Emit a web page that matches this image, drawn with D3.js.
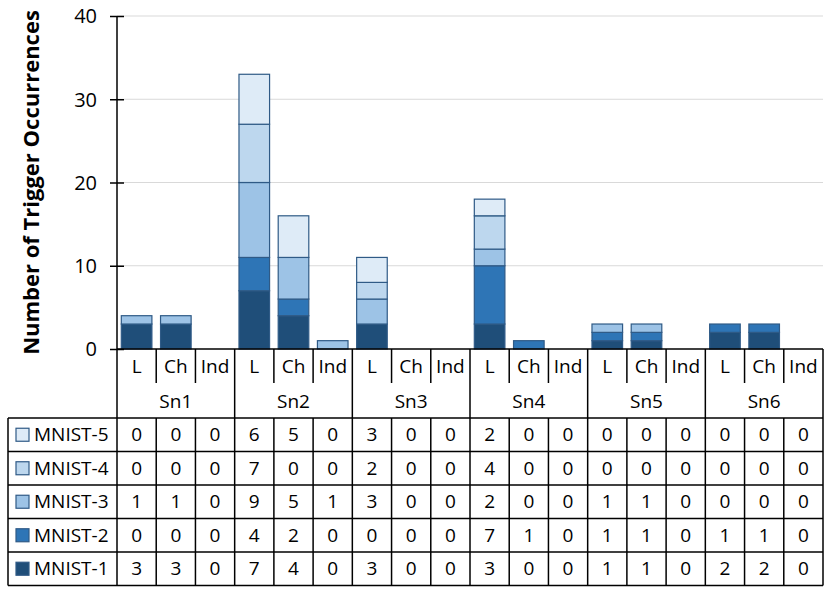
<!DOCTYPE html>
<html>
<head>
<meta charset="utf-8">
<script src="https://cdn.jsdelivr.net/npm/d3@7"></script>
<style>
  body { margin: 0; background: #fff; }
  svg text { font-family: "Open Sans", "Noto Sans", sans-serif; fill: #000; }
</style>
</head>
<body>
<div id="chart"></div>
<script>
const groups = ["Sn1", "Sn2", "Sn3", "Sn4", "Sn5", "Sn6"];
const subCats = ["L", "Ch", "Ind"];
const seriesNames = ["MNIST-1", "MNIST-2", "MNIST-3", "MNIST-4", "MNIST-5"];
// values per column: Sn1 L, Ch, Ind, Sn2 L, Ch, Ind, ...
const mnist1 = [3, 3, 0, 7, 4, 0, 3, 0, 0, 3, 0, 0, 1, 1, 0, 2, 2, 0];
const mnist2 = [0, 0, 0, 4, 2, 0, 0, 0, 0, 7, 1, 0, 1, 1, 0, 1, 1, 0];
const mnist3 = [1, 1, 0, 9, 5, 1, 3, 0, 0, 2, 0, 0, 1, 1, 0, 0, 0, 0];
const mnist4 = [0, 0, 0, 7, 0, 0, 2, 0, 0, 4, 0, 0, 0, 0, 0, 0, 0, 0];
const mnist5 = [0, 0, 0, 6, 5, 0, 3, 0, 0, 2, 0, 0, 0, 0, 0, 0, 0, 0];
const yTicks = [0, 10, 20, 30, 40];

const colors = ["#1f4e79", "#2e75b6", "#9dc3e6", "#bdd7ee", "#deebf7"];
const seriesValues = [mnist1, mnist2, mnist3, mnist4, mnist5];

const width = 831, height = 593;
const margin = { left: 117, right: 8, top: 16 };
const zeroY = 349;
const rowH = 33.5;
const tableTop = 418;
const fs = "19px";

const svg = d3.select("#chart").append("svg")
  .attr("width", width).attr("height", height);

const columns = [];
groups.forEach(g => subCats.forEach(c => columns.push(g + "|" + c)));

const x = d3.scaleBand()
  .domain(columns)
  .range([margin.left, width - margin.right])
  .paddingInner(0.22).paddingOuter(0.11);
const colW = (width - margin.right - margin.left) / columns.length;
const colLeft = i => margin.left + i * colW;

const y = d3.scaleLinear().domain([0, 40]).range([zeroY, margin.top]);

// gridlines
svg.append("g")
  .selectAll("line")
  .data(yTicks.slice(1))
  .join("line")
  .attr("x1", margin.left).attr("x2", width - margin.right)
  .attr("y1", d => y(d)).attr("y2", d => y(d))
  .attr("stroke", "#d9d9d9").attr("stroke-width", 1);

// stacked bars
const table = columns.map((c, i) => {
  const row = { col: c };
  seriesNames.forEach((s, k) => { row[s] = seriesValues[k][i]; });
  return row;
});
const stack = d3.stack().keys(seriesNames)(table);
svg.append("g")
  .selectAll("g")
  .data(stack)
  .join("g")
  .attr("fill", (d, i) => colors[i])
  .selectAll("rect")
  .data(d => d.filter(p => p[1] - p[0] > 0))
  .join("rect")
  .attr("x", d => x(d.data.col))
  .attr("width", x.bandwidth())
  .attr("y", d => y(d[1]))
  .attr("height", d => y(d[0]) - y(d[1]))
  .attr("stroke", "#2f5a86")
  .attr("stroke-width", 1.2);

// y axis
const yAxis = svg.append("g")
  .attr("transform", `translate(${margin.left},0)`)
  .call(d3.axisLeft(y).tickValues(yTicks).tickSize(7).tickPadding(13));
yAxis.select(".domain").remove();
yAxis.selectAll(".tick line").attr("x2", 7).attr("x1", -7).attr("stroke", "#000").attr("stroke-width", 1.5);
yAxis.selectAll(".tick text").style("font-size", "20px").attr("dy", "0.34em");

// axis title
svg.append("text")
  .attr("transform", `translate(39,${(zeroY + 16) / 2}) rotate(-90)`)
  .attr("text-anchor", "middle")
  .style("font-size", "22px")
  .style("font-weight", "bold")
  .text("Number of Trigger Occurrences");

const lines = svg.append("g").attr("stroke", "#000").attr("stroke-width", 1.5);
const right = width - margin.right;
const tableBottom = tableTop + rowH * seriesNames.length;

// main vertical axis line through table
lines.append("line").attr("x1", margin.left).attr("x2", margin.left)
  .attr("y1", margin.top).attr("y2", tableBottom);
lines.append("line").attr("x1", margin.left).attr("x2", right)
  .attr("y1", zeroY).attr("y2", zeroY);
lines.append("line").attr("x1", right).attr("x2", right)
  .attr("y1", zeroY).attr("y2", tableBottom);

// category separators in header
columns.forEach((c, i) => {
  if (i === 0) return;
  const gx = colLeft(i);
  const isGroup = i % 3 === 0;
  lines.append("line").attr("x1", gx).attr("x2", gx)
    .attr("y1", zeroY).attr("y2", isGroup ? tableBottom : 383);
  if (!isGroup) {
    lines.append("line").attr("x1", gx).attr("x2", gx)
      .attr("y1", tableTop).attr("y2", tableBottom);
  }
});

// header labels
svg.append("g").selectAll("text")
  .data(columns)
  .join("text")
  .attr("x", (d, i) => colLeft(i) + colW / 2)
  .attr("y", 366)
  .attr("dy", "0.35em")
  .attr("text-anchor", "middle")
  .style("font-size", fs)
  .text(d => d.split("|")[1]);

svg.append("g").selectAll("text")
  .data(groups)
  .join("text")
  .attr("x", (d, i) => colLeft(i * 3) + colW * 1.5)
  .attr("y", 401)
  .attr("dy", "0.35em")
  .attr("text-anchor", "middle")
  .style("font-size", fs)
  .text(d => d);

// data table rows (top row is MNIST-5)
const rowOrder = seriesNames.map((s, k) => k).reverse();
const tableLeft = 8;
rowOrder.forEach((k, r) => {
  const ry = tableTop + r * rowH;
  lines.append("line").attr("x1", tableLeft).attr("x2", right)
    .attr("y1", ry).attr("y2", ry);
  svg.append("rect")
    .attr("x", 16).attr("y", ry + rowH / 2 - 6.5)
    .attr("width", 13).attr("height", 13)
    .attr("fill", colors[k])
    .attr("stroke", "#2f5a86").attr("stroke-width", 1.2);
  svg.append("text")
    .attr("x", 34).attr("y", ry + rowH / 2)
    .attr("dy", "0.35em")
    .style("font-size", fs)
    .text(seriesNames[k]);
  svg.append("g").selectAll("text")
    .data(seriesValues[k])
    .join("text")
    .attr("x", (d, i) => colLeft(i) + colW / 2)
    .attr("y", ry + rowH / 2)
    .attr("dy", "0.35em")
    .attr("text-anchor", "middle")
    .style("font-size", fs)
    .text(d => d);
});
lines.append("line").attr("x1", tableLeft).attr("x2", right)
  .attr("y1", tableBottom).attr("y2", tableBottom);
lines.append("line").attr("x1", tableLeft).attr("x2", tableLeft)
  .attr("y1", tableTop).attr("y2", tableBottom);
</script>
</body>
</html>
